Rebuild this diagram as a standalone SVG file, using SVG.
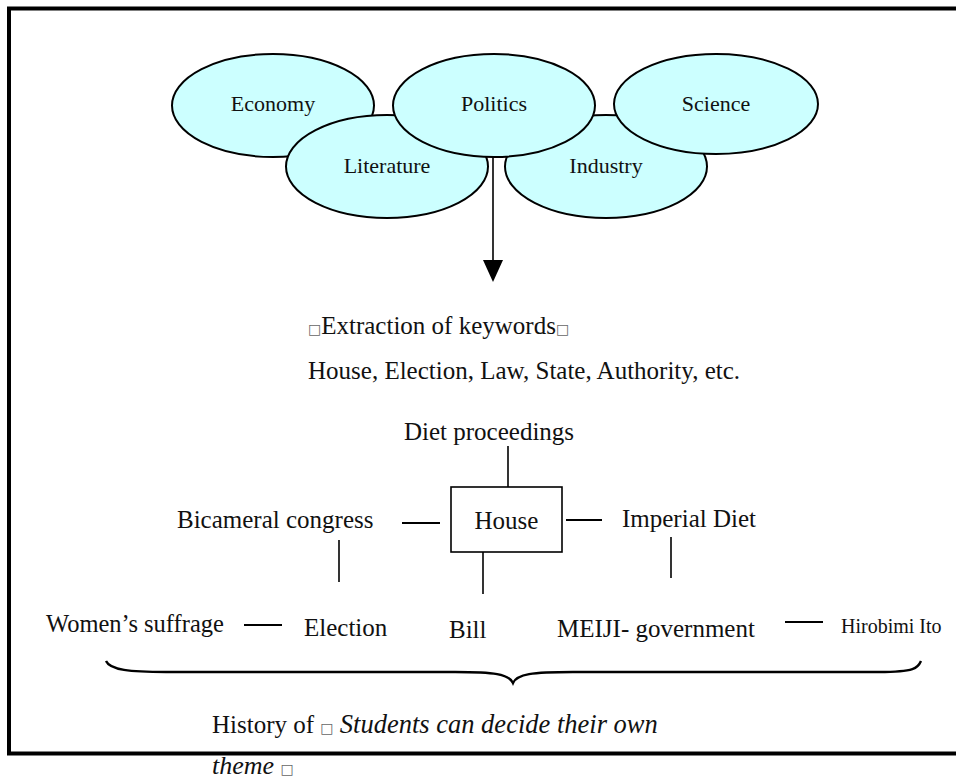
<svg xmlns="http://www.w3.org/2000/svg" width="956" height="780" viewBox="0 0 956 780">
  <style>
    .frame { fill: none; stroke: #000; stroke-width: 4; }
    .topic { fill: #ccffff; stroke: #000; stroke-width: 2; }
    .box { fill: #fff; stroke: #000; stroke-width: 1.6; }
    .t { font-family: "Liberation Serif", "Times New Roman", serif; fill: #111; }
    .lbl { font-size: 22px; text-anchor: middle; }
    .kw { font-size: 25px; }
    .it { font-style: italic; }
    .tofu { font-family: "DejaVu Sans", sans-serif; font-size: 14px; fill: #666; font-style: normal; }
    .line { stroke: #000; stroke-width: 1.6; fill: none; }
    .dash { stroke: #000; stroke-width: 2; fill: none; }
    .brace { stroke: #000; stroke-width: 2.4; fill: none; }
  </style>

  <!-- outer frame (right edge runs off the page) -->
  <rect class="frame" x="9" y="8.5" width="960" height="745"/>

  <!-- connectors -->
  <g id="connectors">
    <line class="line" x1="493" y1="157" x2="493" y2="260" stroke-width="2.4"/>
    <path d="M483,260 L503,260 L493,282 Z" fill="#000"/>
    <line class="line" x1="508" y1="446" x2="508" y2="487"/>
    <line class="dash" x1="402" y1="523" x2="440" y2="523"/>
    <line class="dash" x1="566" y1="520" x2="602" y2="520"/>
    <line class="line" x1="339" y1="540" x2="339" y2="582"/>
    <line class="line" x1="483" y1="552" x2="483" y2="594"/>
    <line class="line" x1="671" y1="537" x2="671" y2="578"/>
    <line class="dash" x1="244" y1="625" x2="282" y2="625"/>
    <line class="dash" x1="785" y1="622" x2="823" y2="622"/>
    <path class="brace" d="M106,661 C110,670 130,672 166,672 L455,672 C494,672 509,674 513,683 C517,674 532,672 573,672 L879,672 C915,672 918,668 921,661"/>
  </g>

  <!-- topic ellipses -->
  <g id="economy">
    <ellipse class="topic" cx="273" cy="105.5" rx="101" ry="51.5"/>
    <text class="t lbl" x="273" y="111">Economy</text>
  </g>
  <g id="literature">
    <ellipse class="topic" cx="387" cy="166.5" rx="101" ry="51.5"/>
    <text class="t lbl" x="387" y="173">Literature</text>
  </g>
  <g id="industry">
    <ellipse class="topic" cx="606" cy="166.5" rx="101" ry="51.5"/>
    <text class="t lbl" x="606" y="173">Industry</text>
  </g>
  <g id="politics">
    <ellipse class="topic" cx="494" cy="105.5" rx="101" ry="51.5"/>
    <text class="t lbl" x="494" y="111">Politics</text>
  </g>
  <g id="science">
    <ellipse class="topic" cx="716" cy="104" rx="102" ry="50"/>
    <text class="t lbl" x="716" y="111">Science</text>
  </g>

  <!-- keyword extraction -->
  <g id="keywords">
    <text class="t kw" x="308" y="334"><tspan class="tofu">□</tspan>Extraction of keywords<tspan class="tofu">□</tspan></text>
    <text class="t kw" x="308" y="379">House, Election, Law, State, Authority, etc.</text>
  </g>

  <!-- keyword map -->
  <g id="diet-proceedings">
    <text class="t kw" x="404" y="440">Diet proceedings</text>
  </g>
  <g id="house">
    <rect class="box" x="451" y="487" width="111" height="65"/>
    <text class="t kw" x="506.5" y="529" text-anchor="middle">House</text>
  </g>
  <g id="bicameral-congress">
    <text class="t kw" x="177" y="528">Bicameral congress</text>
  </g>
  <g id="imperial-diet">
    <text class="t kw" x="622" y="527">Imperial Diet</text>
  </g>
  <g id="womens-suffrage">
    <text class="t" x="46" y="632" font-size="24.5">Women’s suffrage</text>
  </g>
  <g id="election">
    <text class="t kw" x="304" y="636">Election</text>
  </g>
  <g id="bill">
    <text class="t kw" x="449" y="638">Bill</text>
  </g>
  <g id="meiji-government">
    <text class="t kw" x="557" y="637">MEIJI- government</text>
  </g>
  <g id="hirobimi-ito">
    <text class="t" x="841" y="633" font-size="20">Hirobimi Ito</text>
  </g>

  <!-- theme caption -->
  <g id="theme">
    <text class="t kw" x="212" y="733">History of <tspan class="tofu">□</tspan> <tspan class="it" font-size="26.5">Students can decide their own</tspan></text>
    <text class="t it" x="212" y="774" font-size="26">theme <tspan class="tofu">□</tspan></text>
  </g>
</svg>
